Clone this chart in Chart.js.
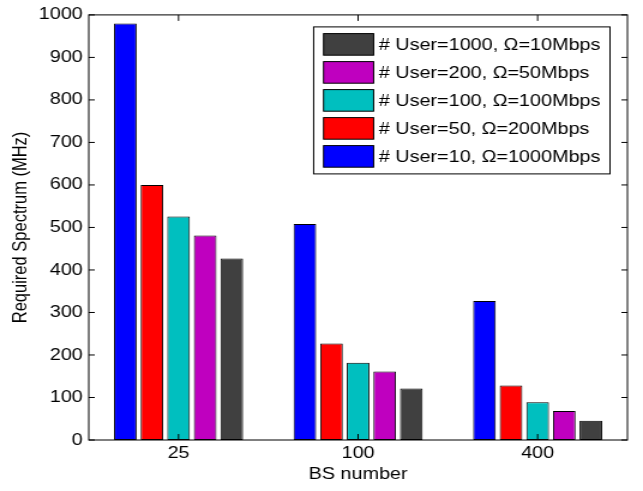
<!DOCTYPE html>
<html>
<head>
<meta charset="utf-8">
<script src="https://cdn.jsdelivr.net/npm/chart.js@4.4.0/dist/chart.umd.min.js"></script>
<style>
html,body{margin:0;padding:0;background:#fff;overflow:hidden}
canvas{display:block}
</style>
</head>
<body>
<canvas id="c" width="536" height="491" style="width:643px;height:491px"></canvas>
<script>
// ---- data ----
const categories = ['25', '100', '400'];
const xTitle = 'BS number';
const yTitle = 'Required Spectrum (MHz)';
const yTicksMin = 0, yTicksMax = 1000, yTickStep = 100;

const labelUser10   = '# User=10, \u03A9=1000Mbps';
const labelUser50   = '# User=50, \u03A9=200Mbps';
const labelUser100  = '# User=100, \u03A9=100Mbps';
const labelUser200  = '# User=200, \u03A9=50Mbps';
const labelUser1000 = '# User=1000, \u03A9=10Mbps';

const user10   = [980, 508, 327];
const user50   = [600, 227, 128];
const user100  = [526, 182, 89];
const user200  = [481, 161, 68];
const user1000 = [427, 121, 45];

// ---- styling ----
const FONT = {family: '"Liberation Sans", Arial, Helvetica, sans-serif', size: 16.5};
const colors = ['#0000FF', '#FF0000', '#00BFBF', '#BF00BF', '#404040'];

function ds(label, data, color) {
  return {
    label, data,
    backgroundColor: color,
    borderColor: '#000',
    borderWidth: 1,
    borderSkipped: false,
    categoryPercentage: 0.741,
    barPercentage: 0.85
  };
}

const axesBox = {
  id: 'axesBox',
  afterDatasetsDraw(chart) {
    const {ctx, chartArea: a, scales: {x, y}} = chart;
    ctx.save();
    ctx.strokeStyle = '#000';
    ctx.lineWidth = 1;
    ctx.beginPath();
    y.ticks.forEach(t => {
      const py = y.getPixelForValue(t.value);
      ctx.moveTo(a.left, py); ctx.lineTo(a.left + 5, py);
      ctx.moveTo(a.right, py); ctx.lineTo(a.right - 5, py);
    });
    x.ticks.forEach((t, i) => {
      const px = x.getPixelForValue(i);
      ctx.moveTo(px, a.bottom); ctx.lineTo(px, a.bottom - 6);
      ctx.moveTo(px, a.top); ctx.lineTo(px, a.top + 6);
    });
    ctx.stroke();
    ctx.strokeRect(a.left, a.top, a.right - a.left, a.bottom - a.top);
    ctx.restore();
  }
};

const boxLegend = {
  id: 'boxLegend',
  afterDraw(chart) {
    const {ctx, chartArea: a} = chart;
    const items = chart.data.datasets.slice().reverse();
    ctx.save();
    ctx.font = FONT.size + 'px ' + FONT.family;
    let maxW = 0;
    items.forEach(d => { maxW = Math.max(maxW, ctx.measureText(d.label).width); });
    const padL = 8.3, swW = 41.7, swH = 21.6, gap = 4.3, padR = 8, padT = 6.7, pitch = 28;
    const boxW = padL + swW + gap + maxW + padR;
    const boxH = padT * 2 + pitch * (items.length - 1) + swH;
    const bx = a.right - 14.5 - boxW;
    const by = a.top + 12;
    ctx.fillStyle = '#fff';
    ctx.fillRect(bx, by, boxW, boxH);
    ctx.strokeStyle = '#000';
    ctx.lineWidth = 1;
    ctx.strokeRect(bx, by, boxW, boxH);
    items.forEach((d, i) => {
      const sy = by + padT + i * pitch;
      ctx.fillStyle = d.backgroundColor;
      ctx.fillRect(bx + padL, sy, swW, swH);
      ctx.strokeStyle = '#000';
      ctx.strokeRect(bx + padL, sy, swW, swH);
      ctx.fillStyle = '#000';
      ctx.textBaseline = 'middle';
      ctx.textAlign = 'left';
      ctx.fillText(d.label, bx + padL + swW + gap, sy + swH / 2 + 1);
    });
    ctx.restore();
  }
};

new Chart(document.getElementById('c'), {
  type: 'bar',
  data: {
    labels: categories,
    datasets: [
      ds(labelUser10, user10, colors[0]),
      ds(labelUser50, user50, colors[1]),
      ds(labelUser100, user100, colors[2]),
      ds(labelUser200, user200, colors[3]),
      ds(labelUser1000, user1000, colors[4])
    ]
  },
  options: {
    responsive: false,
    devicePixelRatio: 1,
    animation: false,
    layout: {padding: {top: 14, right: 13, bottom: 0, left: 0}},
    plugins: {legend: {display: false}, tooltip: {enabled: false}},
    scales: {
      x: {
        type: 'category',
        offset: true,
        grid: {display: false, drawTicks: false},
        border: {display: false},
        ticks: {font: FONT, color: '#000', padding: 4, maxRotation: 0},
        title: {display: true, text: xTitle, font: FONT, color: '#000', padding: {top: 0, bottom: 7}},
        afterFit(s) { s.height = 51; }
      },
      y: {
        min: yTicksMin, max: yTicksMax,
        grid: {display: false, drawTicks: false},
        border: {display: false},
        ticks: {stepSize: yTickStep, font: FONT, color: '#000', padding: 5,
                callback: v => String(v)},
        title: {display: true, text: yTitle, font: FONT, color: '#000', padding: {top: 8, bottom: 0}},
        afterFit(s) { s.width = 74; }
      }
    }
  },
  plugins: [axesBox, boxLegend]
});
</script>
</body>
</html>
